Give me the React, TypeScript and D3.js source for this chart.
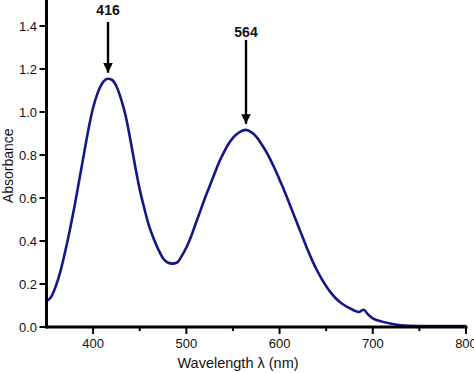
import * as d3 from "d3";

// spectrum
const wavelengths = [
  350, 355, 360, 365, 370, 375, 380, 385, 390, 395, 400, 405, 410, 416, 420, 425, 430, 435, 440, 445,
  450, 455, 460, 465, 470, 475, 480, 485, 490, 495, 500, 505, 510, 515, 520, 525, 530, 535, 540, 545,
  550, 555, 560, 564, 570, 575, 580, 585, 590, 595, 600, 605, 610, 615, 620, 625, 630, 635, 640, 645,
  650, 655, 660, 665, 670, 675, 680, 685, 690, 695, 700, 710, 720, 730, 740, 760, 780, 800,
];
const absorbance = [
  0.12, 0.14, 0.19, 0.26, 0.35, 0.45, 0.56, 0.68, 0.8, 0.92, 1.02, 1.09, 1.135, 1.155, 1.15, 1.12, 1.06, 0.98, 0.87, 0.75,
  0.64, 0.55, 0.47, 0.41, 0.36, 0.32, 0.3, 0.295, 0.3, 0.33, 0.37, 0.42, 0.48, 0.54, 0.6, 0.655, 0.71, 0.765, 0.81, 0.85,
  0.88, 0.9, 0.913, 0.917, 0.905, 0.885, 0.855, 0.82, 0.78, 0.735, 0.685, 0.635, 0.58, 0.525, 0.47, 0.415, 0.36, 0.31, 0.265, 0.225,
  0.19, 0.16, 0.135, 0.115, 0.1, 0.088, 0.077, 0.07, 0.08, 0.058, 0.04, 0.025, 0.015, 0.008, 0.006, 0.005, 0.005, 0.005,
];

const xMajorTicks = [400, 500, 600, 700, 800];
const xMinorTicks = [450, 550, 650, 750];
const yTicks = [0, 0.2, 0.4, 0.6, 0.8, 1.0, 1.2, 1.4];

const peaks = [
  { wl: 416, a: 1.155, label: "416", labelY: 15, top: 22 },
  { wl: 564, a: 0.917, label: "564", labelY: 37, top: 40 },
];

const W = 474;
const H = 373;
const font = "'Liberation Sans', Arial, sans-serif";

export default function App() {
  const x = d3.scaleLinear().domain([350, 800]).range([46.5, 466]);
  const y = d3.scaleLinear().domain([0, 1.5]).range([327, 4.5]);

  const points = wavelengths.map((w, i) => [w, absorbance[i]] as [number, number]);
  const line = d3
    .line<[number, number]>()
    .x((d) => x(d[0]))
    .y((d) => y(d[1]))
    .curve(d3.curveMonotoneX);

  return (
    <svg
      width={W}
      height={H}
      style={{ position: "absolute", left: 0, top: 0, background: "#fff" }}
      fontFamily={font}
    >
      <defs>
        <marker id="arrow" viewBox="0 0 10 10" refX="10" refY="5" markerWidth="4" markerHeight="4" orient="auto" markerUnits="strokeWidth">
          <path d="M0,0 L10,5 L0,10 z" fill="#000" />
        </marker>
      </defs>

      {/* spectrum */}
      <path d={line(points) ?? ""} fill="none" stroke="#15158a" strokeWidth={2.6} strokeLinejoin="round" />

      {/* y axis */}
      <line x1={x(350)} x2={x(350)} y1={0} y2={y(0) + 1.5} stroke="#000" strokeWidth={3} />
      {yTicks.map((t) => (
        <g key={t}>
          <line x1={x(350) - 7} x2={x(350)} y1={y(t)} y2={y(t)} stroke="#000" strokeWidth={2} />
          <text x={37} y={y(t)} dy="0.35em" textAnchor="end" fontSize={13} fill="#111">
            {t.toFixed(1)}
          </text>
        </g>
      ))}
      <text
        transform={`translate(13,${y(0.75)}) rotate(-90)`}
        textAnchor="middle"
        fontSize={14}
        fill="#111"
      >
        Absorbance
      </text>

      {/* x axis */}
      <line x1={x(350)} x2={x(800) + 1.5} y1={y(0)} y2={y(0)} stroke="#000" strokeWidth={3} />
      {xMajorTicks.map((t) => (
        <g key={t}>
          <line x1={x(t)} x2={x(t)} y1={y(0)} y2={y(0) + 7} stroke="#000" strokeWidth={2} />
          <text x={x(t)} y={343} dy="0.35em" textAnchor="middle" fontSize={13} fill="#111">
            {t}
          </text>
        </g>
      ))}
      {xMinorTicks.map((t) => (
        <line key={t} x1={x(t)} x2={x(t)} y1={y(0)} y2={y(0) + 4} stroke="#000" strokeWidth={2} />
      ))}
      <text x={238} y={368} textAnchor="middle" fontSize={14.5} fill="#111">
        Wavelength λ (nm)
      </text>

      {/* peak annotations */}
      {peaks.map((p) => (
        <g key={p.label}>
          <text x={x(p.wl)} y={p.labelY} textAnchor="middle" fontSize={14} fontWeight="bold" fill="#111">
            {p.label}
          </text>
          <line
            x1={x(p.wl)}
            x2={x(p.wl)}
            y1={p.top}
            y2={y(p.a) - 6}
            stroke="#000"
            strokeWidth={2.4}
            markerEnd="url(#arrow)"
          />
        </g>
      ))}
    </svg>
  );
}
